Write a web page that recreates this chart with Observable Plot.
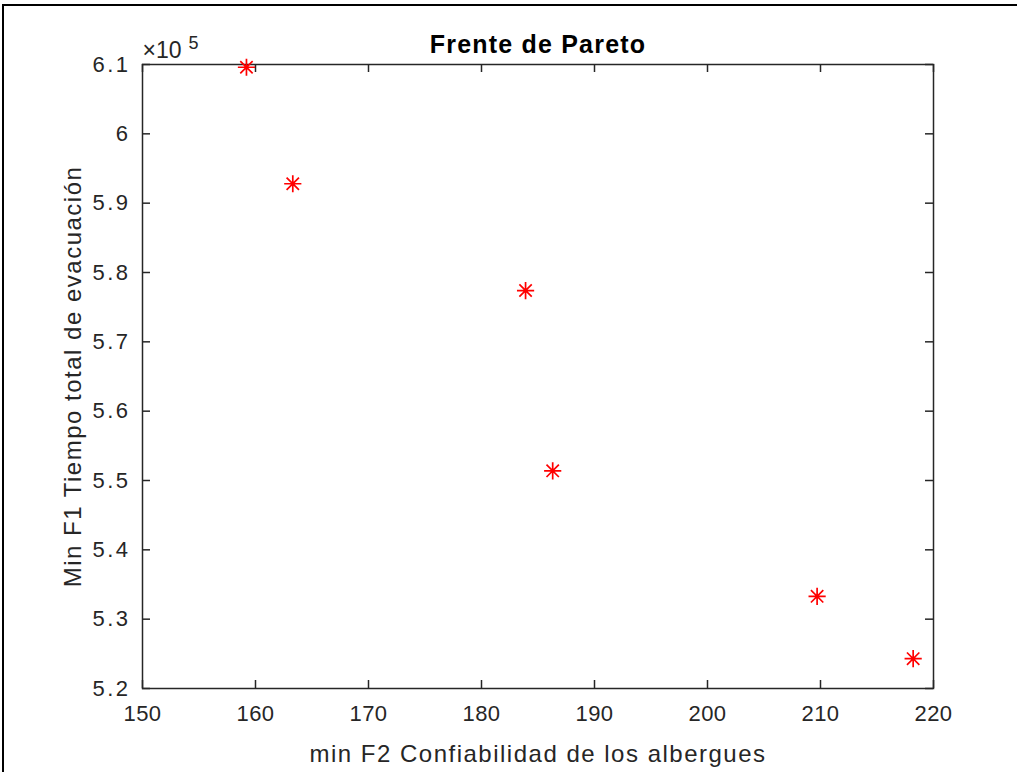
<!DOCTYPE html>
<html><head><meta charset="utf-8">
<script src="https://cdn.jsdelivr.net/npm/d3@7"></script>
<script src="https://cdn.jsdelivr.net/npm/@observablehq/plot@0.6"></script>
<style>
body{margin:0;background:#fff;}
#wrap{position:relative;width:1017px;height:772px;overflow:hidden;background:#fff}
#wrap svg{position:absolute;left:0;top:0}
#edge{position:absolute;left:2px;top:4px;right:-4px;bottom:-4px;border-top:2px solid #000;border-left:2px solid #000;pointer-events:none}
.lbl text{letter-spacing:1.5px}
.ttl text{letter-spacing:1.2px}
.xax text{letter-spacing:0.5px}
.yax text{letter-spacing:2.5px}
</style></head><body><div id="wrap"><div id="edge"></div></div>
<script>
// data
const f2 = [159.2, 163.3, 183.9, 186.3, 209.7, 218.2];          // min F2 Confiabilidad de los albergues
const f1 = [609600, 592800, 577400, 551400, 533300, 524300];    // Min F1 Tiempo total de evacuación
const xTicks = [150, 160, 170, 180, 190, 200, 210, 220];
const yTicks = [520000, 530000, 540000, 550000, 560000, 570000, 580000, 590000, 600000, 610000];
const titleText = "Frente de Pareto";
const xLabelText = "min F2 Confiabilidad de los albergues";
const yLabelText = "Min F1 Tiempo total de evacuación";
const expBase = "×10";
const expPower = "5";

const points = f2.map((x, i) => ({x, y: f1[i]}));

const W = 1017, H = 772;
const mL = 142, mR = 84, mT = 64, mB = 84;
const pw = W - mL - mR, ph = H - mT - mB;
const ink = "#262626";
const tickLen = 8;

const asterisk = {
  draw(ctx, size) {
    const r = Math.sqrt(size / Math.PI);
    const d = r * 0.72;
    ctx.moveTo(-r, 0); ctx.lineTo(r, 0);
    ctx.moveTo(0, -r); ctx.lineTo(0, r);
    ctx.moveTo(-d, -d); ctx.lineTo(d, d);
    ctx.moveTo(-d, d); ctx.lineTo(d, -d);
  }
};

const chart = Plot.plot({
  width: W, height: H,
  marginLeft: mL, marginRight: mR, marginTop: mT, marginBottom: mB,
  style: {fontFamily: "'Liberation Sans', Arial, Helvetica, sans-serif", color: ink, background: "#fff"},
  x: {domain: [150, 220]},
  y: {domain: [520000, 610000]},
  marks: [
    Plot.frame({stroke: ink, strokeWidth: 1.5}),
    // inward ticks on all four sides
    Plot.tickX(xTicks, {x: d => d, insetTop: ph - tickLen, stroke: ink, strokeWidth: 1.5}),
    Plot.tickX(xTicks, {x: d => d, insetBottom: ph - tickLen, stroke: ink, strokeWidth: 1.5}),
    Plot.tickY(yTicks, {y: d => d, insetRight: pw - tickLen, stroke: ink, strokeWidth: 1.5}),
    Plot.tickY(yTicks, {y: d => d, insetLeft: pw - tickLen, stroke: ink, strokeWidth: 1.5}),
    Plot.axisX(xTicks, {anchor: "bottom", tickSize: 0, tickPadding: 17, fontSize: 22, label: null, tickFormat: d => String(d), fill: ink, className: "xax"}),
    Plot.axisY(yTicks, {anchor: "left", tickSize: 0, tickPadding: 12, fontSize: 22, label: null, tickFormat: d => String(+(d / 1e5).toFixed(2)), fill: ink, className: "yax"}),
    Plot.text([titleText], {frameAnchor: "top", lineAnchor: "bottom", dy: -12, text: d => d, fontSize: 25, fontWeight: "bold", fill: "#000", className: "ttl"}),
    Plot.text([xLabelText], {frameAnchor: "bottom", lineAnchor: "bottom", dy: 73, text: d => d, fontSize: 24, fill: ink, className: "lbl"}),
    Plot.text([yLabelText], {frameAnchor: "left", textAnchor: "middle", lineAnchor: "middle", rotate: -90, dx: -69, text: d => d, fontSize: 24, fill: ink, className: "lbl"}),
    Plot.text([expBase], {frameAnchor: "top-left", textAnchor: "start", lineAnchor: "bottom", dy: -7, text: d => d, fontSize: 23, fill: ink}),
    Plot.text([expPower], {frameAnchor: "top-left", textAnchor: "start", lineAnchor: "bottom", dx: 46, dy: -16, text: d => d, fontSize: 18, fill: ink}),
    Plot.dot(points, {x: "x", y: "y", symbol: asterisk, r: 8.6, stroke: "#ff0000", strokeWidth: 1.7, fill: "none"})
  ]
});
document.getElementById("wrap").prepend(chart);
</script>
</body></html>
